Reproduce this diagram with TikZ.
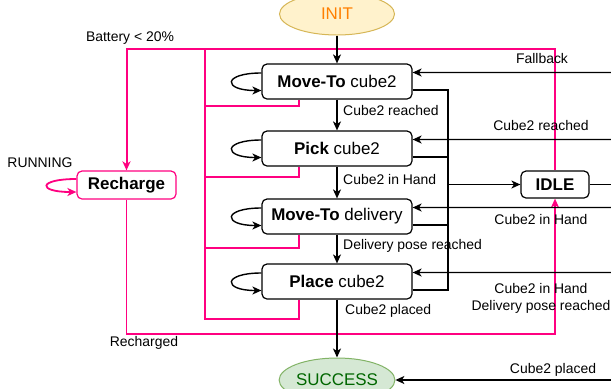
\documentclass[tikz,border=0pt]{standalone}
\usepackage{fontspec}
\setmainfont{Liberation Sans}
\usetikzlibrary{arrows.meta,shapes.geometric}
\definecolor{pinkline}{HTML}{FF0080}
\definecolor{initfill}{HTML}{FFF2CC}
\definecolor{initdraw}{HTML}{D6B656}
\definecolor{inittext}{HTML}{FF8000}
\definecolor{donefill}{HTML}{D5E8D4}
\definecolor{donedraw}{HTML}{82B366}
\definecolor{donetext}{HTML}{006600}
\tikzset{
    state/.style={draw,rounded corners=5bp,line width=1.2bp,minimum width=150bp,
        minimum height=35bp,inner sep=0pt,font=\fontsize{17}{20}\selectfont},
    terminal/.style={ellipse,draw,line width=1bp,minimum width=115bp,minimum height=42bp,
        inner sep=0pt,font=\fontsize{17}{20}\selectfont},
    lbl/.style={inner sep=0pt,font=\fontsize{14}{17}\selectfont},
    ln/.style={line width=1.4bp},
    arr/.style={ln,-{Stealth[length=9bp,width=8bp,inset=2.5bp]}},
    pk/.style={draw=pinkline,line width=1.2bp},
    pkarr/.style={pk,line width=1.8bp,-{Stealth[length=9bp,width=8bp,inset=2.5bp]},pinkline}
}

\newcommand{\State}[4]{%
    \node[state] (#1) at (337,#2) {\textbf{#3} #4};
    \draw[arr] ([yshift=8.5bp]#1.west) .. controls +(-39,0) and +(-39,0) .. ([yshift=-9bp]#1.west);
}

\begin{document}
\begin{tikzpicture}[x=1bp,y=-1bp]
    \useasboundingbox (0,0) rectangle (611,388);
    \node[terminal,fill=initfill,draw=initdraw,text=inittext] (init) at (337,14) {INIT};
    \node[terminal,fill=donefill,draw=donedraw,text=donetext,minimum height=44bp] (success) at (337,380) {SUCCESS};
    \State{mvc}{81.5}{Move-To}{cube2}
    \State{pick}{148.5}{Pick}{cube2}
    \State{mvd}{216.5}{Move-To}{delivery}
    \State{place}{281.5}{Place}{cube2}
    \node[state,draw=pinkline,minimum width=99bp,minimum height=28bp] (recharge) at (126.5,185) {\textbf{Recharge}};
    \node[state,minimum width=68bp,minimum height=27bp] (idle) at (555,184.5) {\textbf{IDLE}};

    \coordinate (bus) at (205,49);
    \coordinate (rcturn) at (555,334);
    \foreach \s/\y in {mvc/106,pick/177,mvd/248,place/319}
        \draw[pk] ([xshift=-38bp]\s.south) |- (205,\y) -- (bus);
    \draw[pk] (idle) |- (bus);
    \draw[pkarr,line width=2bp] (bus) -| (recharge);
    \draw[pkarr] ([yshift=6bp]recharge.west) .. controls +(-39,0) and +(-39,0) .. ([yshift=-7bp]recharge.west);
    \draw[pkarr] (recharge) |- (rcturn) -- (idle);
    \node[lbl] (battery) at (130,38) {Battery < 20\%};
    \node[lbl] (running) at (40,163) {RUNNING};
    \node[lbl] (recharged) at (144,343) {Recharged};

    \draw[arr] (init) -- (mvc);
    \draw[arr] (mvc) -- (pick);
    \draw[arr] (pick) -- (mvd);
    \draw[arr] (mvd) -- (place);
    \draw[arr] (place) -- (success);
    \node[lbl,anchor=west] (reached) at (343,111) {Cube2 reached};
    \node[lbl,anchor=west] (inhand) at (343,180) {Cube2 in Hand};
    \node[lbl,anchor=west] (posereached) at (343,246) {Delivery pose reached};
    \node[lbl,anchor=west] (placed) at (345,311) {Cube2 placed};

    \coordinate (join) at (448,184.5);
    \foreach \s in {mvc,pick,mvd,place}
        \draw[ln] ([yshift=-8.5bp]\s.east) -| (join);
    \draw[arr] (join) -- (idle);

    \coordinate (inFallback) at (611,72.5);
    \coordinate (inReached) at (611,139.5);
    \coordinate (inHand) at (611,207.5);
    \coordinate (inPose) at (611,272.5);
    \coordinate (inPlaced) at (611,380);
    \coordinate (outIdle) at (611,184.5);
    \draw[arr] (inFallback) -- ([yshift=9bp]mvc.east);
    \draw[arr] (inReached) -- ([yshift=9bp]pick.east);
    \draw[arr] (inHand) -- ([yshift=9bp]mvd.east);
    \draw[arr] (inPose) -- ([yshift=9bp]place.east);
    \draw[arr] (inPlaced) -- (success);
    \draw[ln] (idle) -- (outIdle);
    \node[lbl] (fallback) at (542,59) {Fallback};
    \node[lbl] (rreached) at (541,126) {Cube2 reached};
    \node[lbl] (rinhand) at (541,220) {Cube2 in Hand};
    \node[lbl,align=center] (rpose) at (541,298) {Cube2 in Hand\\Delivery pose reached};
    \node[lbl] (rplaced) at (553,370) {Cube2 placed};
\end{tikzpicture}
\end{document}
